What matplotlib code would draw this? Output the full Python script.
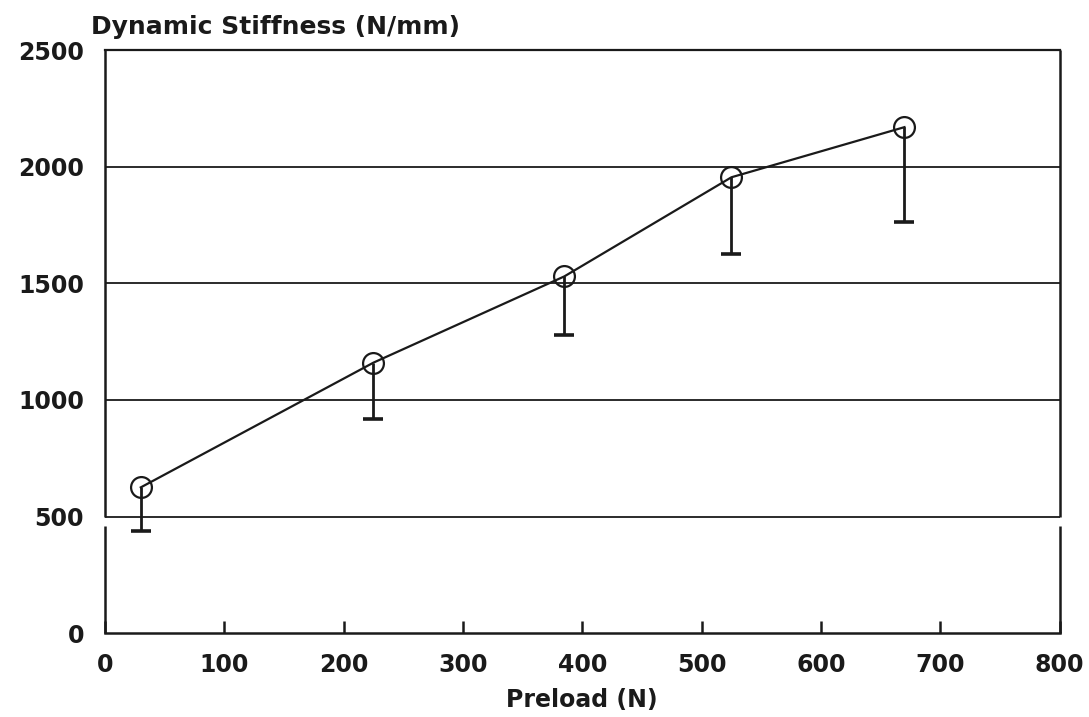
import matplotlib
matplotlib.use("Agg")
import matplotlib.pyplot as plt

# data
preload = [30, 225, 385, 525, 670]
stiffness = [625, 1160, 1530, 1955, 2170]
lower_limit = [440, 920, 1280, 1625, 1765]

x_ticks = [0, 100, 200, 300, 400, 500, 600, 700, 800]
y_ticks = [0, 500, 1000, 1500, 2000, 2500]
grid_levels = [500, 1000, 1500, 2000]

ink = "#1a1a1a"
plt.rcParams['font.family'] = ['DejaVu Sans']
label_font = dict(fontsize=17, fontweight='heavy', color=ink)

fig = plt.figure(figsize=(10.89, 7.17), dpi=100)
ax = fig.add_axes([0.0964, 0.117, 0.8766, 0.813])
ax.set_xlim(0, 800)
ax.set_ylim(0, 2500)

# frame: top and bottom as spines, sides drawn with a break below 500
for side in ['left', 'right']:
    ax.spines[side].set_visible(False)
ax.spines['top'].set_color(ink)
ax.spines['bottom'].set_color(ink)
ax.spines['top'].set_linewidth(1.6)
ax.spines['bottom'].set_linewidth(1.8)
ax.vlines([0, 800], 0, 460, color=ink, lw=1.8, clip_on=False)
ax.vlines([0, 800], 500, 2500, color=ink, lw=1.8, clip_on=False)

# horizontal grid lines
ax.hlines(grid_levels, 0, 800, color=ink, lw=1.3)

# lower error bars with flat caps
ax.vlines(preload, lower_limit, stiffness, color=ink, lw=2.0, zorder=3)
ax.plot(preload, lower_limit, linestyle='none', marker='_', markersize=14,
        markeredgewidth=2.6, color=ink, zorder=3)

# mean curve with open circles
ax.plot(preload, stiffness, color=ink, lw=1.6, marker='o', markersize=15,
        markerfacecolor='none', markeredgecolor=ink, markeredgewidth=1.6, zorder=4)

ax.set_xticks(x_ticks)
ax.set_yticks(y_ticks)
ax.set_xticklabels([str(v) for v in x_ticks], **label_font)
ax.set_yticklabels([str(v) for v in y_ticks], **label_font)
ax.tick_params(axis='x', direction='in', length=9, width=1.8, color=ink, pad=14)
ax.tick_params(axis='y', length=0, pad=15)

ax.set_xlabel('Preload (N)', labelpad=8, **label_font)
fig.text(0.084, 0.962, 'Dynamic Stiffness (N/mm)', ha='left', va='center',
         fontsize=18, fontweight='heavy', color=ink)

fig.savefig('out.png', dpi=100, facecolor='white')
